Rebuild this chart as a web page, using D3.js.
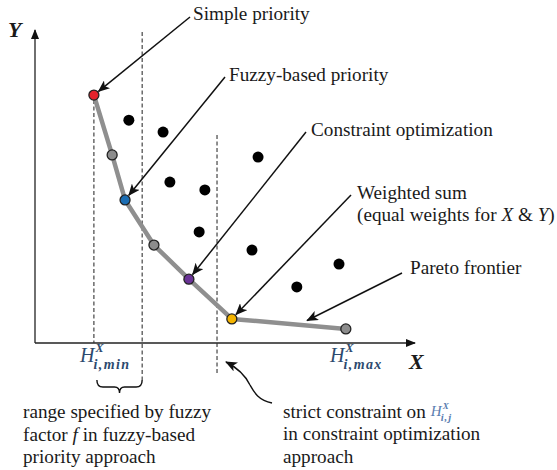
<!DOCTYPE html>
<html>
<head>
<meta charset="utf-8">
<script src="https://cdn.jsdelivr.net/npm/d3@7"></script>
<style>
  body { margin: 0; background: #fff; }
</style>
</head>
<body>
<div id="content"></div>
<script>
/*
    Chart data (abstract units 0..100 on both axes)
*/
var frontierX = [15.5, 20.3, 23.7, 31.3, 40.5, 51.8, 81.8],
    frontierY = [79.2, 60.1, 45.7, 31.3, 20.4, 7.7, 4.5],
    frontierColors = ["#e3232c", "#8c8c8c", "#1b6db3", "#8c8c8c", "#6a3396", "#f4b400", "#8c8c8c"];
var dotX = [24.7, 33.7, 35.5, 44.7, 58.7, 43.2, 57.1, 68.9, 80.0],
    dotY = [71.2, 67.4, 51.4, 48.9, 59.4, 35.5, 29.7, 17.9, 25.2];
var fuzzyRange = [15.5, 28.2],
    constraintX = 47.9;
/*
    Callout labels and the frontier point each one points at
*/
var labels = ["Simple priority", "Fuzzy-based priority", "Constraint optimization",
              "Weighted sum", "Pareto frontier"];
var labelTargets = [0, 2, 4, 5, -1];

var W = 557, H = 470;
var serif = "Liberation Serif";
var fs = 19.2;
var x = d3.scaleLinear().domain([0, 100]).range([35, 415]),
    y = d3.scaleLinear().domain([0, 100]).range([343, 30]);

var svg = d3.select("#content").append("svg")
    .attr("width", W).attr("height", H)
    .style("font-family", serif);

var defs = svg.append("defs");
defs.append("marker")
    .attr("id", "head")
    .attr("viewBox", "0 0 12 10")
    .attr("refX", 11).attr("refY", 5)
    .attr("markerWidth", 12).attr("markerHeight", 10)
    .attr("markerUnits", "userSpaceOnUse")
    .attr("orient", "auto")
    .append("path")
    .attr("d", "M0,0 L12,5 L0,10 L3,5 Z")
    .attr("fill", "#111");
defs.append("marker")
    .attr("id", "axhead")
    .attr("viewBox", "0 0 10 8")
    .attr("refX", 9).attr("refY", 4)
    .attr("markerWidth", 10).attr("markerHeight", 8)
    .attr("markerUnits", "userSpaceOnUse")
    .attr("orient", "auto")
    .append("path")
    .attr("d", "M0,0 L10,4 L0,8 Z")
    .attr("fill", "#111");

function txt(xp, yp, size) {
    return svg.append("text").attr("x", xp).attr("y", yp)
        .style("font-family", serif).style("font-size", size + "px").attr("fill", "#1a1a1a");
}

/*
    Axes (plain arrows, no ticks)
*/
svg.append("line")
    .attr("x1", x(0)).attr("y1", y(0)).attr("x2", x(0)).attr("y2", y(100))
    .attr("stroke", "#222").attr("stroke-width", 1.3)
    .attr("marker-end", "url(#axhead)");
svg.append("line")
    .attr("x1", x(0)).attr("y1", y(0)).attr("x2", x(100)).attr("y2", y(0))
    .attr("stroke", "#222").attr("stroke-width", 1.3)
    .attr("marker-end", "url(#axhead)");
txt(8, 37, 22).style("font-weight", "bold").style("font-style", "italic").text("Y");
txt(409, 369, 22).style("font-weight", "bold").style("font-style", "italic").text("X");

/*
    Dashed guide lines
*/
var dash = svg.append("g").attr("stroke", "#333").attr("stroke-width", 1.1)
    .attr("stroke-dasharray", "4,2.5");
dash.append("line").attr("x1", x(fuzzyRange[0])).attr("x2", x(fuzzyRange[0]))
    .attr("y1", y(frontierY[0]) + 5).attr("y2", y(0));
dash.append("line").attr("x1", x(fuzzyRange[1])).attr("x2", x(fuzzyRange[1]))
    .attr("y1", 32).attr("y2", 380);
dash.append("line").attr("x1", x(constraintX)).attr("x2", x(constraintX))
    .attr("y1", 135).attr("y2", 375);

/*
    Pareto frontier line and points
*/
var line = d3.line().x(function (d) { return x(d[0]); }).y(function (d) { return y(d[1]); });
var frontier = frontierX.map(function (v, i) { return [v, frontierY[i]]; });
svg.append("path")
    .datum(frontier)
    .attr("d", line)
    .attr("fill", "none")
    .attr("stroke", "#8f8f8f")
    .attr("stroke-width", 4.5)
    .attr("stroke-linejoin", "round");

svg.append("g").selectAll("circle")
    .data(dotX)
    .enter().append("circle")
    .attr("cx", function (d) { return x(d); })
    .attr("cy", function (d, i) { return y(dotY[i]); })
    .attr("r", 5.5)
    .attr("fill", "#000");

svg.append("g").selectAll("circle")
    .data(frontier)
    .enter().append("circle")
    .attr("cx", function (d) { return x(d[0]); })
    .attr("cy", function (d) { return y(d[1]); })
    .attr("r", 5)
    .attr("fill", function (d, i) { return frontierColors[i]; })
    .attr("stroke", "#222")
    .attr("stroke-width", 1.3);

/*
    Callouts
*/
var labelPos = [[193, 20], [229, 81], [311, 136], [357, 199], [410, 274]];
var arrowStart = [[190, 17], [225, 77], [306, 132], [351, 195], [402, 273]];

labels.forEach(function (t, i) {
    var tgt;
    if (labelTargets[i] >= 0) {
        var p = frontier[labelTargets[i]],
            px = x(p[0]), py = y(p[1]),
            sx = arrowStart[i][0], sy = arrowStart[i][1],
            dx = sx - px, dy = sy - py, len = Math.sqrt(dx * dx + dy * dy);
        tgt = [px + dx / len * 6, py + dy / len * 6];
    } else {
        // arrow points at the last frontier segment
        var a = frontier[5], b = frontier[6];
        tgt = [x(a[0] + (b[0] - a[0]) * 0.66), y(a[1] + (b[1] - a[1]) * 0.66) - 5];
    }
    svg.append("line")
        .attr("x1", arrowStart[i][0]).attr("y1", arrowStart[i][1])
        .attr("x2", tgt[0]).attr("y2", tgt[1])
        .attr("stroke", "#111").attr("stroke-width", 1.5)
        .attr("marker-end", "url(#head)");
    txt(labelPos[i][0], labelPos[i][1], fs).text(t);
});

var eq = txt(357, 221, fs);
eq.append("tspan").text("(equal weights for ");
eq.append("tspan").style("font-style", "italic").text("X");
eq.append("tspan").text(" & ");
eq.append("tspan").style("font-style", "italic").text("Y");
eq.append("tspan").text(")");

/*
    H labels: separate pieces so super/subscripts stack
*/
function hLabel(xp, yp, sub, size, c) {
    var h = txt(xp, yp, size).attr("fill", c).style("font-style", "italic").text("H");
    var hw = h.node().getComputedTextLength();
    txt(xp + hw + 1, yp - size * 0.5, size * 0.6).attr("fill", c)
        .style("font-weight", "bold").style("font-style", "italic").text("X");
    txt(xp + hw - 1, yp + size * 0.36, size * 0.7).attr("fill", c)
        .style("font-weight", "bold").style("font-style", "italic")
        .style("letter-spacing", (size * 0.07) + "px").text(sub);
}
hLabel(80, 362, "i,min", 20, "#2c4a6e");
hLabel(330, 362, "i,max", 20, "#2c4a6e");

/*
    Brace for the fuzzy range
*/
var bx0 = x(fuzzyRange[0]) + 3, bx1 = x(fuzzyRange[1]), bm = (bx0 + bx1) / 2;
svg.append("path")
    .attr("d", "M" + bx0 + ",380 Q" + bx0 + ",387 " + (bx0 + 6) + ",387 L" + (bm - 5) + ",387 Q" + bm + ",387 " + bm + ",393" +
               " Q" + bm + ",387 " + (bm + 5) + ",387 L" + (bx1 - 6) + ",387 Q" + bx1 + ",387 " + bx1 + ",380")
    .attr("fill", "none").attr("stroke", "#111").attr("stroke-width", 1.4);

/*
    Wavy arrow to the constraint line
*/
svg.append("path")
    .attr("d", "M272,403 C258,400 254,392 250,385 C245,375 238,368 226,362")
    .attr("fill", "none").attr("stroke", "#111").attr("stroke-width", 1.4)
    .attr("marker-end", "url(#head)");

/*
    Bottom notes
*/
txt(23, 418, fs).text("range specified by fuzzy");
var l2 = txt(23, 441, fs);
l2.append("tspan").text("factor ");
l2.append("tspan").style("font-style", "italic").text("f");
l2.append("tspan").text(" in fuzzy-based");
txt(23, 463, fs).text("priority approach");

var r1 = txt(283, 418, fs).text("strict constraint on");
hLabel(283 + r1.node().getComputedTextLength() + 5, 416, "i,j", 15, "#5a7db0");
txt(283, 440, fs).text("in constraint optimization");
txt(283, 463, fs).text("approach");
</script>
</body>
</html>
